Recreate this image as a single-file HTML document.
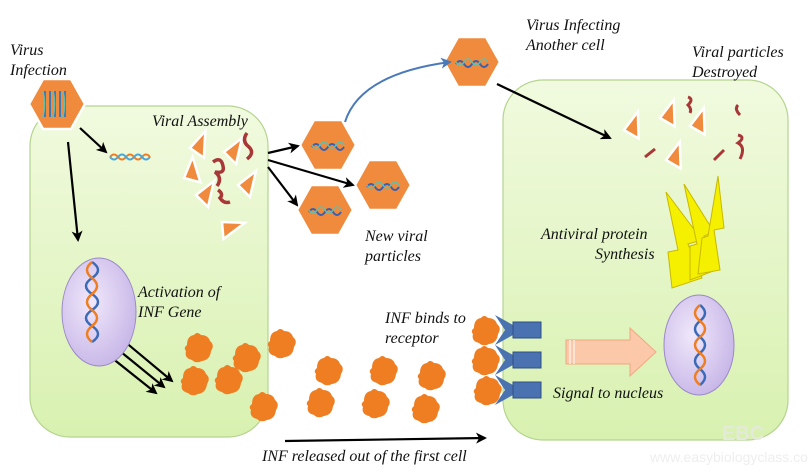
<!DOCTYPE html>
<html><head><meta charset="utf-8"><style>
html,body{margin:0;padding:0;background:#fff}
svg{display:block}
text{font-family:"Liberation Serif",serif;font-style:italic;font-size:16px;fill:#111}
</style></head><body>
<svg width="808" height="473" viewBox="0 0 808 473" xmlns="http://www.w3.org/2000/svg">
<defs>
<linearGradient id="cell" x1="0" y1="0" x2="0" y2="1">
<stop offset="0" stop-color="#f1fadf"/><stop offset="1" stop-color="#d8f1b0"/></linearGradient>
<radialGradient id="nuc" cx="0.4" cy="0.4" r="0.7"><stop offset="0" stop-color="#f0e8fa"/><stop offset="1" stop-color="#c4b2e6"/></radialGradient>
<marker id="ah" markerWidth="11" markerHeight="11" refX="9" refY="5.5" orient="auto" markerUnits="userSpaceOnUse" viewBox="0 0 11 11"><path d="M0,0 L11,5.5 L0,11 L3,5.5z" fill="#000"/></marker>
<marker id="ahb" markerWidth="11" markerHeight="11" refX="9" refY="5.5" orient="auto" markerUnits="userSpaceOnUse" viewBox="0 0 11 11"><path d="M0,0 L11,5.5 L0,11 L3,5.5z" fill="#4a7ab8"/></marker>
<g id="hex"><polygon points="-28,0 -14,-25 14,-25 28,0 14,25 -14,25" fill="#f08a3c" stroke="#fff" stroke-width="2.5"/><path d="M-16,2 q4,-6 8,0 t8,0 t8,0 t8,0" stroke="#3a5fb0" stroke-width="2" fill="none"/><path d="M-16,0 q4,6 8,0 t8,0 t8,0 t8,0" stroke="#5fc0b0" stroke-width="1.5" fill="none"/></g>
<g id="blob"><path d="M-13,-4 q0,-9 7,-10 q3,-4 7,0 q7,0 9,6 q5,4 1,10 q-1,9 -9,10 q-6,3 -10,-1 q-8,-2 -6,-9 q-3,-3 1,-6z" fill="#ef7d22"/></g>
<g id="tri"><polygon points="0,0 18,-14 12,12" fill="#f08a3c" stroke="#fff" stroke-width="2.5"/></g>
<g id="rec"><path d="M0,-15 L18,-5 L18,5 L0,15 L10,0z" fill="#4a72b0"/><rect x="18" y="-8" width="28" height="16" fill="#4a72b0" stroke="#2f4f86"/></g>
</defs>

<rect x="30" y="106" width="238" height="331" rx="40" fill="url(#cell)" stroke="#b5d48f" stroke-width="1.2"/>
<rect x="503" y="80" width="285" height="360" rx="40" fill="url(#cell)" stroke="#b5d48f" stroke-width="1.2"/>

<text x="10" y="55">Virus</text><text x="10" y="75">Infection</text>
<text x="152" y="126">Viral Assembly</text>
<text x="526" y="30">Virus  Infecting</text><text x="526" y="50">Another cell</text>
<text x="692" y="57">Viral particles</text><text x="692" y="77">Destroyed</text>
<text x="365" y="241">New viral</text><text x="365" y="261">particles</text>
<text x="138" y="297">Activation of</text><text x="138" y="317">INF Gene</text>
<text x="541" y="239">Antiviral protein</text><text x="595" y="259">Synthesis</text>
<text x="385" y="323">INF binds to</text><text x="385" y="343">receptor</text>
<text x="553" y="398">Signal to nucleus</text>
<text x="262" y="461">INF released out of the first cell</text>

<g transform="translate(57,104)"><polygon points="-28,0 -14,-25 14,-25 28,0 14,25 -14,25" fill="#f08a3c" stroke="#fff" stroke-width="2.5"/>
<path d="M-12,-13 v26 M-7,-13 v26 M-2,-13 v26 M3,-13 v26 M8,-13 v26" stroke="#3a7ab8" stroke-width="2"/><path d="M-14,-13 q3,13 0,26 M-4,-13 q3,13 0,26 M6,-13 q3,13 0,26" stroke="#5fc0b0" stroke-width="1.5" fill="none"/></g>

<use href="#hex" x="328" y="145"/><use href="#hex" x="383" y="185"/><use href="#hex" x="325" y="210"/><use href="#hex" x="472" y="62"/>

<path d="M110,157 q4,-5 8,0 t8,0 t8,0 t8,0 t8,0" stroke="#ef7d22" stroke-width="2" fill="none"/><path d="M110,157 q4,5 8,0 t8,0 t8,0 t8,0 t8,0" stroke="#4aa8d8" stroke-width="2" fill="none"/>

<g stroke="#000" stroke-width="2.2" fill="none">
<line x1="80" y1="128" x2="106" y2="152" marker-end="url(#ah)"/>
<line x1="68" y1="142" x2="78" y2="240" marker-end="url(#ah)"/>
<line x1="268" y1="153" x2="298" y2="146" marker-end="url(#ah)"/>
<line x1="268" y1="160" x2="353" y2="185" marker-end="url(#ah)"/>
<line x1="268" y1="167" x2="297" y2="205" marker-end="url(#ah)"/>
<line x1="497" y1="84" x2="610" y2="138" marker-end="url(#ah)"/>
<line x1="285" y1="441" x2="485" y2="438" marker-end="url(#ah)"/>
<line x1="118" y1="336" x2="172" y2="381" marker-end="url(#ah)"/>
<line x1="110" y1="343" x2="164" y2="387" marker-end="url(#ah)"/>
<line x1="102" y1="350" x2="156" y2="393" marker-end="url(#ah)"/>
</g>
<path d="M345,122 C355,90 390,70 450,62" stroke="#4a7ab8" stroke-width="2" fill="none" marker-end="url(#ahb)"/>

<use href="#tri" x="190" y="148" transform="rotate(-10 190 148)"/><use href="#tri" x="224" y="152"/><use href="#tri" x="184" y="178" transform="rotate(-30 184 178)"/><use href="#tri" x="196" y="195"/><use href="#tri" x="238" y="185"/><use href="#tri" x="222" y="222" transform="rotate(40 222 222)"/>
<path d="M247,133 q-6,8 2,14 q6,6 -2,12" stroke="#a83838" stroke-width="3.5" fill="none"/>
<path d="M213,162 q8,-6 10,4 q2,8 -8,6 q8,6 2,14" stroke="#a83838" stroke-width="3.5" fill="none"/>
<path d="M218,190 q6,4 2,8 q4,6 10,4" stroke="#a83838" stroke-width="3.5" fill="none"/>

<use href="#tri" x="624" y="130" transform="rotate(-15 624 130)"/><use href="#tri" x="660" y="118" transform="rotate(-15 660 118)"/><use href="#tri" x="690" y="126" transform="rotate(-15 690 126)"/><use href="#tri" x="666" y="160" transform="rotate(-15 666 160)"/>
<path d="M688,97 q6,2 0,8 q4,4 2,8" stroke="#a83838" stroke-width="3" fill="none"/>
<path d="M738,105 q-4,4 2,10" stroke="#a83838" stroke-width="3" fill="none"/>
<path d="M738,135 q8,2 0,8 q8,4 2,16" stroke="#a83838" stroke-width="3" fill="none"/>
<path d="M645,157 l10,-8" stroke="#a83838" stroke-width="3"/>
<path d="M714,160 l10,-10" stroke="#a83838" stroke-width="3"/>

<g fill="#f4f000" stroke="#c8b800" stroke-width="1">
<polygon points="666,192 702,240 688,244 702,278 672,288 668,252 678,250"/>
<polygon points="684,184 714,232 704,236 716,270 690,280 690,246 697,244"/>
<polygon points="718,176 724,228 714,230 720,270 698,274 702,238 708,236"/>
</g>

<ellipse cx="99" cy="312" rx="37" ry="54" fill="url(#nuc)" stroke="#9a88c8"/>
<path d="M92,262 q12,8 0,16 t0,16 t0,16 t0,16 t0,16" stroke="#3a6ab8" stroke-width="2.5" fill="none"/>
<path d="M92,262 q-10,8 0,16 t0,16 t0,16 t0,16 t0,16" stroke="#ef7d22" stroke-width="2.5" fill="none"/>
<ellipse cx="699" cy="345" rx="35" ry="50" fill="url(#nuc)" stroke="#9a88c8"/>
<path d="M700,305 q10,8 0,16 t0,16 t0,16 t0,16 t0,16" stroke="#3a6ab8" stroke-width="2.5" fill="none"/>
<path d="M700,305 q-10,8 0,16 t0,16 t0,16 t0,16 t0,16" stroke="#ef7d22" stroke-width="2.5" fill="none"/>

<polygon points="566,340 630,340 630,328 656,352 630,376 630,364 566,364" fill="#fbc9a9" stroke="#f0a880"/>
<line x1="570" y1="340" x2="570" y2="364" stroke="#fff"/><line x1="574" y1="340" x2="574" y2="364" stroke="#fff"/>

<use href="#blob" x="200" y="349"/><use href="#blob" x="248" y="359"/><use href="#blob" x="196" y="382"/><use href="#blob" x="230" y="381"/>
<use href="#blob" x="283" y="345"/><use href="#blob" x="330" y="372"/><use href="#blob" x="385" y="372"/><use href="#blob" x="433" y="377"/>
<use href="#blob" x="265" y="408"/><use href="#blob" x="322" y="404"/><use href="#blob" x="377" y="405"/><use href="#blob" x="427" y="410"/>
<use href="#blob" x="487" y="332"/><use href="#blob" x="487" y="362"/><use href="#blob" x="489" y="392"/>
<use href="#rec" x="495" y="330"/><use href="#rec" x="495" y="360"/><use href="#rec" x="495" y="390"/>

<text x="650" y="462" style="font-style:normal;font-size:14px;fill:#eeeeee;font-family:'Liberation Sans',sans-serif">www.easybiologyclass.com</text>
<text x="722" y="440" style="font-style:normal;font-weight:bold;font-size:20px;fill:#e4ead8;font-family:'Liberation Sans',sans-serif">EBC</text>
</svg>
</body></html>
